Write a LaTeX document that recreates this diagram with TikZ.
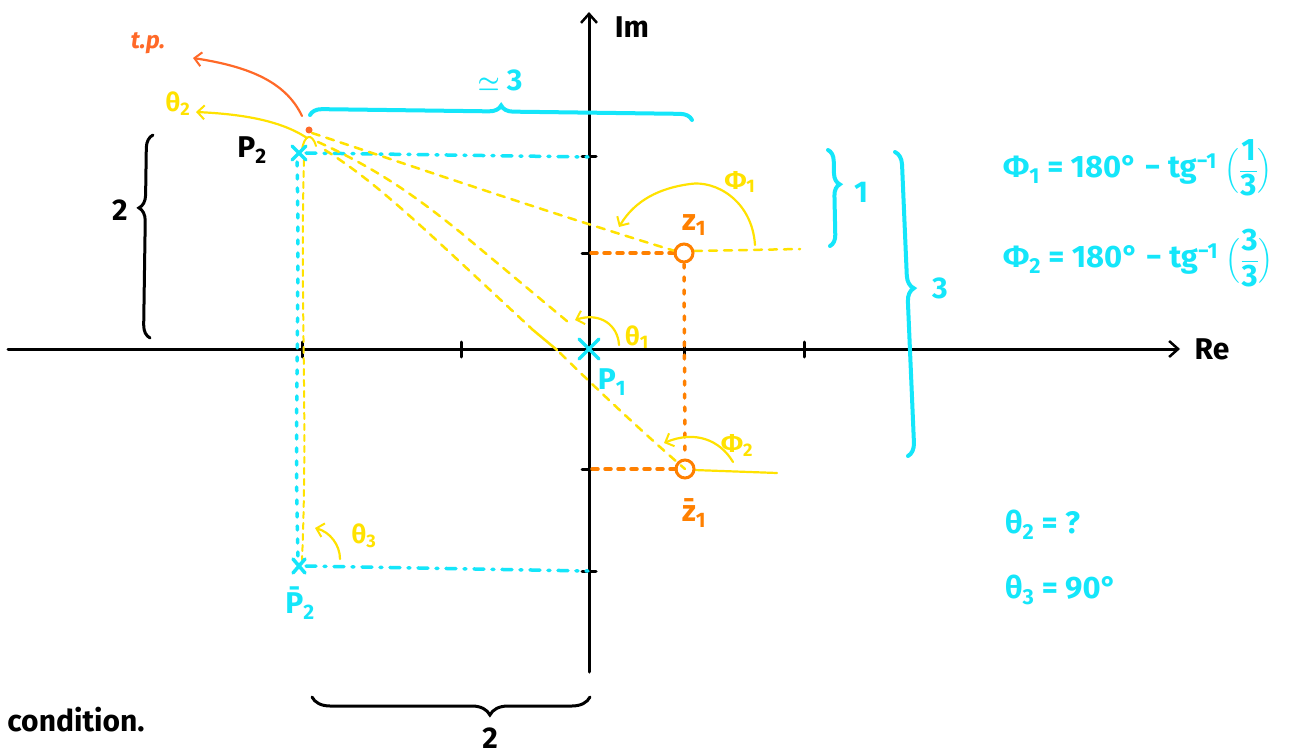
\documentclass[tikz,border=0pt]{standalone}
\usepackage{fontspec}
\usepackage{amsmath}
\setmainfont{Fira Sans}
\usetikzlibrary{arrows.meta,decorations.pathreplacing}
\definecolor{cy}{RGB}{20,230,250}
\definecolor{yel}{RGB}{255,226,0}
\definecolor{orz}{RGB}{255,128,0}
\definecolor{ortp}{RGB}{255,105,40}
\tikzset{
  axisline/.style={draw=black,line width=3pt,line cap=round,-{Straight Barb[length=9pt,width=16pt,line width=2.5pt]}},
  tick/.style={draw=black,line width=3pt,line cap=round},
  ydash/.style={draw=yel,line width=2.5pt,dash pattern=on 8pt off 7pt,line cap=round},
  yfine/.style={draw=yel,line width=2pt,dash pattern=on 6pt off 5pt,line cap=round},
  yarc/.style={draw=yel,line width=2.2pt,line cap=round,-{Straight Barb[length=7pt,width=14pt,line width=2pt]}},
  cdash/.style={draw=cy,line width=3.5pt,dash pattern=on 10pt off 8pt on 2pt off 8pt,line cap=round},
  cdot/.style={draw=cy,line width=3.5pt,dash pattern=on 4pt off 9pt,line cap=round},
  odash/.style={draw=orz,line width=3.5pt,dash pattern=on 6pt off 7pt,line cap=round},
  cross/.style={draw=cy,line width=3.5pt,line cap=round},
  cbrace/.style={draw=cy,line width=4pt,line cap=round,decorate},
  kbrace/.style={draw=black,line width=3pt,line cap=round,decorate},
  big/.style={font=\fontsize{30}{32}\selectfont\bfseries,inner sep=0pt},
  mid/.style={font=\fontsize{26}{28}\selectfont\bfseries,inner sep=0pt},
  eq/.style={font=\fontsize{31}{34}\selectfont\bfseries,inner sep=0pt,text=cy},
}
\begin{document}
\begin{tikzpicture}[x=1pt,y=-1pt]
\useasboundingbox[fill=white] (0,0) rectangle (1306,754);
% key points
\coordinate (O) at (589,349);
\coordinate (reS) at (8,349);
\coordinate (reE) at (1180,349);
\coordinate (imS) at (589,672);
\coordinate (imE) at (589,12);
\coordinate (P2) at (299,153);
\coordinate (P2b) at (299,566);
\coordinate (z1) at (684,253);
\coordinate (z1b) at (685,469);
\coordinate (tpdot) at (309,130);
\coordinate (yo) at (312,133);
% axes
\draw[axisline] (reS) -- (reE);
\draw[axisline] (imS) -- (imE);
\node[big] (Re) at (1212,349) {Re};
\node[big] (Im) at (632,27) {Im};
% ticks
\foreach \x in {302,461,684,804}{\draw[tick] (\x,342) -- (\x,357);}
\foreach \y in {157,253,469,571}{\draw[tick] (582,\y) -- (596,\y);}
% cyan projections
\coordinate (imP2) at (588,157);
\coordinate (imP2b) at (588,571);
\draw[cdash] (306,153) -- (imP2);
\draw[cdash] (306,566) -- (imP2b);
\draw[cdot] (297,162) .. controls (300,300) and (294,420) .. (298,558);
% yellow vertical
\draw[yfine] (304,160) .. controls (300,300) and (308,420) .. (302,560);
% orange projections
\coordinate (imz1) at (590,253);
\coordinate (imz1b) at (590,469);
\draw[odash] (675,253) -- (imz1);
\draw[odash] (676,469) -- (imz1b);
\draw[odash,dash pattern=on 4pt off 9pt] (684,264) -- (685,458);
% yellow lines from P2
\coordinate (bEnd) at (568,322);
\draw[ydash] (yo) .. controls (400,162) and (540,210) .. (675,251);
\draw[ydash] (318,142) .. controls (380,170) and (420,200) .. (460,232) -- (bEnd);
\draw[ydash] (325,150) .. controls (380,185) and (420,225) .. (533,330);
\draw[draw=yel,line width=2.5pt,line cap=round] (533,330) -- (557,350);
\draw[ydash] (560,353) .. controls (600,392) and (640,430) .. (z1b);
% z1 horizontal references
\coordinate (z1r) at (800,249);
\coordinate (z1br) at (777,473);
\draw[ydash] (694,251) -- (z1r);
\draw[draw=yel,line width=2.2pt,line cap=round] (694,470) -- (z1br);
% angle arcs
\draw[yarc] (755,245) .. controls (752,200) and (715,180) .. (690,184) .. controls (660,188) and (635,200) .. (619,227);
\draw[yarc] (619,345) .. controls (618,325) and (600,312) .. (575,320);
\draw[yarc] (733,462) .. controls (720,440) and (695,430) .. (664,443);
\draw[yarc] (340,559) .. controls (340,545) and (330,532) .. (315,528);
\draw[draw=yel,line width=2pt,line cap=round] (302,150) .. controls (304,135) and (312,132) .. (316,146);
\draw[yarc] (307,138) .. controls (280,120) and (240,114) .. (196,112);
\draw[draw=ortp,line width=2.2pt,line cap=round,-{Straight Barb[length=7pt,width=14pt,line width=2pt]}] (302,116) .. controls (285,80) and (245,66) .. (193,58);
\fill[ortp] (tpdot) circle (3.5pt);
% orange circles
\draw[orz,line width=3pt] (z1) circle (9pt);
\draw[orz,line width=3pt] (z1b) circle (9pt);
% crosses
\draw[cross] (579,339) -- (599,359) (579,359) -- (599,339);
\draw[cross] (292,146) -- (306,160) (292,160) -- (306,146);
\draw[cross] (293,559) -- (305,573) (293,573) -- (305,559);
% braces
\draw[cbrace,decoration={brace,amplitude=12pt,aspect=0.5}] (310,115) -- (692,120);
\draw[kbrace,decoration={brace,amplitude=13pt,aspect=0.64}] (150,338) -- (153,135);
\draw[cbrace,decoration={brace,amplitude=11pt,aspect=0.36}] (828,150) -- (830,246);
\draw[cbrace,decoration={brace,amplitude=13pt,aspect=0.45}] (895,152) -- (908,456);
\draw[kbrace,decoration={brace,amplitude=18pt,aspect=0.36}] (590,697) -- (312,697);
% labels
\node[mid,text=ortp,font=\fontsize{24}{26}\selectfont\bfseries\itshape] (tp) at (148,43) {t.p.};
\node[mid,text=yel] (th2) at (178,104) {θ\textsubscript{2}};
\node[big] (P2l) at (252,150) {P\textsubscript{2}};
\node[big] (two1) at (120,210) {2};
\node[big,text=cy] (approx3) at (500,80) {{\boldmath$\simeq$} 3};
\node[mid,text=yel] (ph1l) at (740,182) {Φ\textsubscript{1}};
\node[big,text=orz] (z1l) at (694,225) {z\textsubscript{1}};
\node[big,text=cy] (one) at (861,192) {1};
\node[big,text=cy] (three) at (940,288) {3};
\node[mid,text=yel] (th1l) at (637,337) {θ\textsubscript{1}};
\node[big,text=cy] (P1l) at (612,382) {P\textsubscript{1}};
\node[mid,text=yel] (ph2l) at (737,445) {Φ\textsubscript{2}};
\node[big,text=orz] (z1bl) at (694,513) {\={z}\textsubscript{1}};
\node[mid,text=yel] (th3l) at (364,536) {θ\textsubscript{3}};
\node[big,text=cy] (P2bl) at (300,603) {\={P}\textsubscript{2}};
\node[big] (two2) at (490,738) {2};
\node[big] (cond) at (76,720) {condition.};
% equations
\node[eq,anchor=west] (eq1) at (1003,168) {Φ\textsubscript{1} = 180° − tg\textsuperscript{−1} $\Bigl(\dfrac{\text{\bfseries 1}}{\text{\bfseries 3}}\Bigr)$};
\node[eq,anchor=west] (eq2) at (1003,258) {Φ\textsubscript{2} = 180° − tg\textsuperscript{−1} $\Bigl(\dfrac{\text{\bfseries 3}}{\text{\bfseries 3}}\Bigr)$};
\node[eq,anchor=west] (eq3) at (1005,525) {θ\textsubscript{2} = ?};
\node[eq,anchor=west] (eq4) at (1005,590) {θ\textsubscript{3} = 90°};
\end{tikzpicture}
\end{document}
